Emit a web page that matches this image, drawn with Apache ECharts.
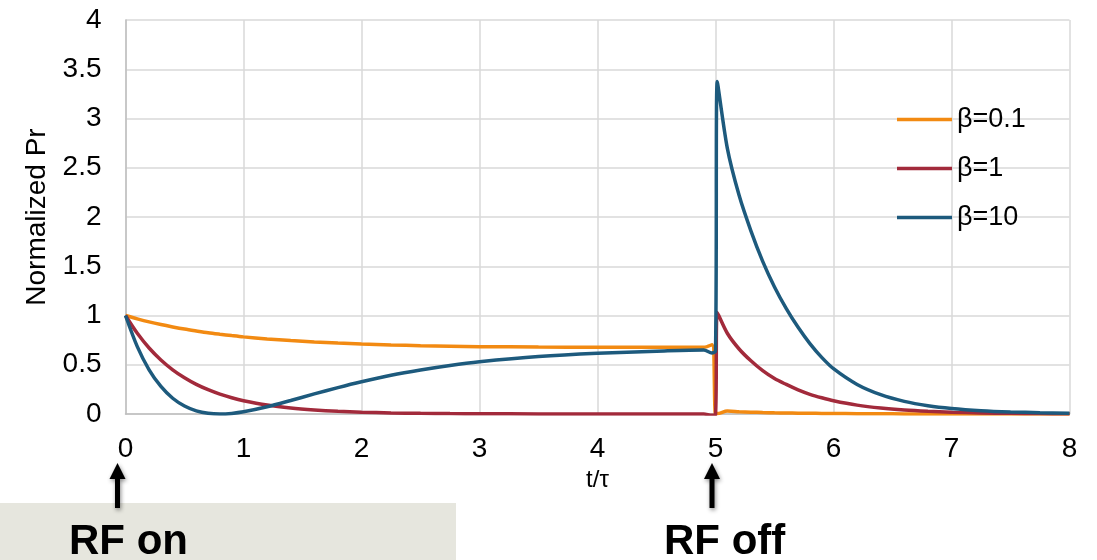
<!DOCTYPE html>
<html>
<head>
<meta charset="utf-8">
<script src="https://cdn.jsdelivr.net/npm/echarts@6/dist/echarts.min.js"></script>
<style>
html,body{margin:0;padding:0;background:#fff;}
#chart{width:1097px;height:560px;}
</style>
</head>
<body>
<div id="chart"></div>
<script>
// x positions (t/τ)
const tValues = [0,0.1,0.2,0.3,0.4,0.5,0.6,0.7,0.8,0.9,1,1.2,1.4,1.6,1.8,2,2.25,2.5,2.75,3,3.5,4,4.5,4.9,4.97,5,5.015,5.1,5.2,5.3,5.4,5.5,5.6,5.7,5.8,5.9,6,6.2,6.4,6.6,6.8,7,7.25,7.5,7.75,8];
// β=0.1
const beta01 = [1,0.966,0.935,0.908,0.884,0.862,0.843,0.825,0.810,0.796,0.783,0.762,0.745,0.731,0.720,0.710,0.701,0.694,0.689,0.684,0.680,0.678,0.677,0.677,0.703,0.004,0.004,0.030,0.024,0.019,0.015,0.012,0.010,0.008,0.007,0.006,0.005,0.003,0.002,0.001,0.001,0.001,0,0,0,0];
// β=1
const beta1 = [1,0.819,0.670,0.549,0.449,0.368,0.301,0.247,0.202,0.165,0.135,0.091,0.061,0.041,0.027,0.018,0.011,0.007,0.004,0.002,0.001,0,0,0,-0.012,-0.005,1.03,0.82,0.66,0.54,0.44,0.36,0.30,0.245,0.20,0.165,0.135,0.09,0.06,0.04,0.027,0.018,0.011,0.007,0.004,0.002];
// β=10
const beta10 = [1,0.684,0.449,0.280,0.160,0.081,0.032,0.007,0.000,0.006,0.022,0.073,0.137,0.204,0.268,0.327,0.393,0.447,0.493,0.530,0.583,0.616,0.637,0.650,0.620,0.640,3.375,2.70,2.22,1.86,1.55,1.29,1.07,0.88,0.715,0.575,0.46,0.30,0.196,0.128,0.084,0.056,0.034,0.021,0.013,0.008];

const seriesNames = ['β=0.1','β=1','β=10'];
const seriesColors = ['#F28A12','#A22A3B','#1D5A7D'];
const xTicks = [0,1,2,3,4,5,6,7,8];
const yTicks = [0,0.5,1,1.5,2,2.5,3,3.5,4];

const FONT = '"Liberation Sans", Arial, Helvetica, sans-serif';
const pair = arr => tValues.map((t,i)=>[t,arr[i]]);

function arrow(cx){
  return {
    type:'polygon', z:10,
    shape:{points:[[cx,463],[cx+8,479],[cx+2.5,479],[cx+2.5,508],[cx-2.5,508],[cx-2.5,479],[cx-8,479]]},
    style:{fill:'#000', shadowBlur:4, shadowColor:'rgba(0,0,0,0.45)', shadowOffsetY:2, shadowOffsetX:1}
  };
}

const chart = echarts.init(document.getElementById('chart'));
chart.setOption({
  animation:false,
  backgroundColor:'#fff',
  textStyle:{fontFamily:FONT},
  grid:{left:125.5,right:27.5,top:20,bottom:146},
  xAxis:{
    type:'value', min:xTicks[0], max:xTicks[xTicks.length-1], interval:1,
    name:'t/τ', nameLocation:'middle', nameGap:46,
    nameTextStyle:{fontSize:24,color:'#000',fontFamily:FONT},
    axisLine:{show:true,onZero:false,lineStyle:{color:'#bfbfbf',width:1.5}},
    axisTick:{show:false},
    splitLine:{show:true,lineStyle:{color:'#d9d9d9',width:1.5}},
    axisLabel:{fontSize:28,color:'#000',margin:21,fontFamily:FONT}
  },
  yAxis:{
    type:'value', min:yTicks[0], max:yTicks[yTicks.length-1], interval:0.5,
    name:'Normalized Pr', nameLocation:'middle', nameGap:74, nameRotate:90,
    nameTextStyle:{fontSize:28,color:'#000',fontFamily:FONT},
    axisLine:{show:true,lineStyle:{color:'#bfbfbf',width:1.5}},
    axisTick:{show:false},
    splitLine:{show:true,lineStyle:{color:'#d9d9d9',width:1.5}},
    axisLabel:{fontSize:28,color:'#000',margin:24,fontFamily:FONT}
  },
  legend:{
    orient:'vertical', left:897, top:106, padding:0,
    icon:'rect', itemWidth:55, itemHeight:3.5, itemGap:22,
    textStyle:{fontSize:27,lineHeight:27,color:'#000',fontFamily:FONT},
    data:seriesNames
  },
  series:[beta01,beta1,beta10].map((arr,i)=>({
    name:seriesNames[i], type:'line', data:pair(arr),
    showSymbol:false, symbol:'none', smooth:0.3,
    lineStyle:{color:seriesColors[i],width:3.5},
    itemStyle:{color:seriesColors[i]}
  })),
  graphic:[
    {type:'rect', z:5, shape:{x:0,y:503,width:456,height:57}, style:{fill:'#e6e6de'}},
    arrow(117.5),
    arrow(712),
    {type:'text', z:11, style:{text:'RF on', x:69, y:521.5, font:'bold 42px '+FONT, fill:'#000', textVerticalAlign:'top'}},
    {type:'text', z:11, style:{text:'RF off', x:664, y:521.5, font:'bold 42px '+FONT, fill:'#000', textVerticalAlign:'top'}}
  ]
});
</script>
</body>
</html>
